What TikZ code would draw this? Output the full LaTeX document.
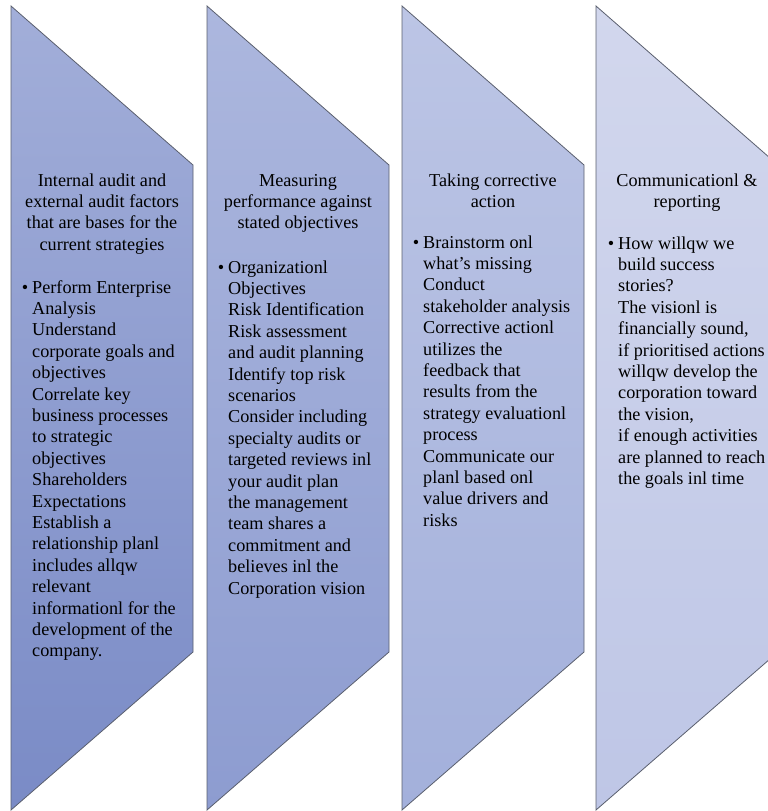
\documentclass[tikz,border=0pt]{standalone}
\usepackage{fontspec}
\setmainfont{Liberation Serif}
\definecolor{aTop}{HTML}{A2AED9}
\definecolor{aBot}{HTML}{7A8BC6}
\definecolor{bTop}{HTML}{ACB7DE}
\definecolor{bBot}{HTML}{8D9CD0}
\definecolor{cTop}{HTML}{BCC5E5}
\definecolor{cBot}{HTML}{A3B0DB}
\definecolor{dTop}{HTML}{D2D7ED}
\definecolor{dBot}{HTML}{BEC6E6}
\definecolor{edge}{HTML}{5A5F6E}
\begin{document}
\begin{tikzpicture}[x=1pt,y=-1pt,
  chev/.style={draw=edge, line width=0.8pt, line join=miter},
  ttl/.style={anchor=north, align=center, inner sep=0pt, font=\fontsize{18.2}{21.3}\selectfont},
  bul/.style={anchor=north west, align=left, inner sep=0pt, font=\fontsize{18.2}{21.4}\selectfont}]
\useasboundingbox (0,0) rectangle (768,811);
% chevron shapes
\draw[chev, top color=aTop, bottom color=aBot] (11,6) -- (193,165) -- (193,652) -- (11,810) -- cycle;
\draw[chev, top color=bTop, bottom color=bBot] (207,6) -- (389,165) -- (389,652) -- (207,810) -- cycle;
\draw[chev, top color=cTop, bottom color=cBot] (402,6) -- (584,165) -- (584,652) -- (402,810) -- cycle;
\draw[chev, top color=dTop, bottom color=dBot] (596,6) -- (778,165) -- (778,652) -- (596,810) -- cycle;
% titles
\node[ttl] (t1) at (102,171) {\strut Internal audit and\\external audit factors\\that are bases for the\\current strategies};
\node[ttl] (t2) at (298,171) {\strut Measuring\\performance against\\stated objectives};
\node[ttl] (t3) at (493,171) {\strut Taking corrective\\action};
\node[ttl] (t4) at (687,171) {\strut Communicationl \&\\reporting};
% bullet texts
\node[bul] (b1) at (32,278) {\strut\llap{•\hskip 4pt}Perform Enterprise\\Analysis\\Understand\\corporate goals and\\objectives\\Correlate key\\business processes\\to strategic\\objectives\\Shareholders\\Expectations\\Establish a\\relationship planl\\includes allqw\\relevant\\informationl for the\\development of the\\company.};
\node[bul] (b2) at (228,258) {\strut\llap{•\hskip 4pt}Organizationl\\Objectives\\Risk Identification\\Risk assessment\\and audit planning\\Identify top risk\\scenarios\\Consider including\\specialty audits or\\targeted reviews inl\\your audit plan\\the management\\team shares a\\commitment and\\believes inl the\\Corporation vision};
\node[bul] (b3) at (423,233) {\strut\llap{•\hskip 4pt}Brainstorm onl\\what’s missing\\Conduct\\stakeholder analysis\\Corrective actionl\\utilizes the\\feedback that\\results from the\\strategy evaluationl\\process\\Communicate our\\planl based onl\\value drivers and\\risks};
\node[bul] (b4) at (618,234) {\strut\llap{•\hskip 4pt}How willqw we\\build success\\stories?\\The visionl is\\financially sound,\\if prioritised actions\\willqw develop the\\corporation toward\\the vision,\\if enough activities\\are planned to reach\\the goals inl time};
\end{tikzpicture}
\end{document}
